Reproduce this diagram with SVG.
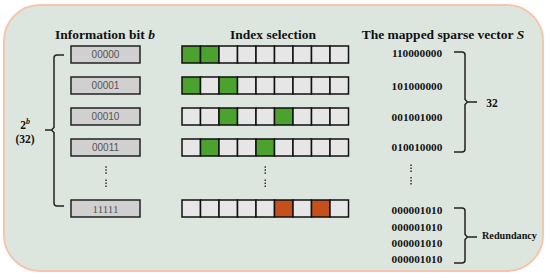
<svg xmlns="http://www.w3.org/2000/svg" width="550" height="278" viewBox="0 0 550 278">
<style>
.title{font-family:"Liberation Serif",serif;font-weight:bold;font-size:13.5px;fill:#111;text-anchor:middle}
.bits{font-family:"Liberation Sans",sans-serif;font-size:10px;fill:#555;text-anchor:middle}
.bits2{font-family:"Liberation Serif",serif;font-size:11px;fill:#555;text-anchor:middle}
.vec{font-family:"Liberation Serif",serif;font-weight:bold;font-size:11.3px;fill:#111;text-anchor:middle}
.lbl{font-family:"Liberation Serif",serif;font-weight:bold;font-size:11.5px;fill:#111;text-anchor:middle}
.red{font-family:"Liberation Serif",serif;font-weight:bold;font-size:10.2px;fill:#111;text-anchor:start}
.box{fill:#d0d0d0;stroke:#222;stroke-width:1.5}
.c{fill:#e6e6e6;stroke:#111;stroke-width:1.5}
.g{fill:#4ca22e;stroke:#111;stroke-width:1.5}
.o{fill:#c5501c;stroke:#111;stroke-width:1.5}
.brace{fill:none;stroke:#222;stroke-width:1.5}
.dot{fill:#333}
</style>
<rect x="4" y="5" width="539" height="266" rx="36" ry="36" fill="#dce6df" stroke="#f5c6ad" stroke-width="2"/>
<text class="title" x="105" y="39">Information bit <tspan font-style="italic">b</tspan></text>
<text class="title" x="273" y="39">Index selection</text>
<text class="title" x="443" y="39">The mapped sparse vector <tspan font-style="italic">S</tspan></text>

<g id="bits">
<g id="b0"><rect class="box" x="71" y="46" width="69" height="17"/><text class="bits" x="105.5" y="58">00000</text></g>
<g id="b1"><rect class="box" x="71" y="77" width="69" height="17"/><text class="bits" x="105.5" y="89">00001</text></g>
<g id="b2"><rect class="box" x="71" y="108" width="69" height="17"/><text class="bits" x="105.5" y="120">00010</text></g>
<g id="b3"><rect class="box" x="71" y="139" width="69" height="17"/><text class="bits" x="105.5" y="151">00011</text></g>
<g id="b4"><rect class="box" x="71" y="200" width="69" height="17"/><text class="bits2" x="105.5" y="212.5">11111</text></g>
</g>

<g id="idx0">
<rect class="g" x="182" y="46" width="18.5" height="17"/><rect class="g" x="200.5" y="46" width="18.5" height="17"/><rect class="c" x="219" y="46" width="18.5" height="17"/><rect class="c" x="237.5" y="46" width="18.5" height="17"/><rect class="c" x="256" y="46" width="18.5" height="17"/><rect class="c" x="274.5" y="46" width="18.5" height="17"/><rect class="c" x="293" y="46" width="18.5" height="17"/><rect class="c" x="311.5" y="46" width="18.5" height="17"/><rect class="c" x="330" y="46" width="18.5" height="17"/>
</g>
<g id="idx1">
<rect class="g" x="182" y="77" width="18.5" height="17"/><rect class="c" x="200.5" y="77" width="18.5" height="17"/><rect class="g" x="219" y="77" width="18.5" height="17"/><rect class="c" x="237.5" y="77" width="18.5" height="17"/><rect class="c" x="256" y="77" width="18.5" height="17"/><rect class="c" x="274.5" y="77" width="18.5" height="17"/><rect class="c" x="293" y="77" width="18.5" height="17"/><rect class="c" x="311.5" y="77" width="18.5" height="17"/><rect class="c" x="330" y="77" width="18.5" height="17"/>
</g>
<g id="idx2">
<rect class="c" x="182" y="108" width="18.5" height="17"/><rect class="c" x="200.5" y="108" width="18.5" height="17"/><rect class="g" x="219" y="108" width="18.5" height="17"/><rect class="c" x="237.5" y="108" width="18.5" height="17"/><rect class="c" x="256" y="108" width="18.5" height="17"/><rect class="g" x="274.5" y="108" width="18.5" height="17"/><rect class="c" x="293" y="108" width="18.5" height="17"/><rect class="c" x="311.5" y="108" width="18.5" height="17"/><rect class="c" x="330" y="108" width="18.5" height="17"/>
</g>
<g id="idx3">
<rect class="c" x="182" y="139" width="18.5" height="17"/><rect class="g" x="200.5" y="139" width="18.5" height="17"/><rect class="c" x="219" y="139" width="18.5" height="17"/><rect class="c" x="237.5" y="139" width="18.5" height="17"/><rect class="g" x="256" y="139" width="18.5" height="17"/><rect class="c" x="274.5" y="139" width="18.5" height="17"/><rect class="c" x="293" y="139" width="18.5" height="17"/><rect class="c" x="311.5" y="139" width="18.5" height="17"/><rect class="c" x="330" y="139" width="18.5" height="17"/>
</g>
<g id="idx4">
<rect class="c" x="182" y="200" width="18.5" height="17"/><rect class="c" x="200.5" y="200" width="18.5" height="17"/><rect class="c" x="219" y="200" width="18.5" height="17"/><rect class="c" x="237.5" y="200" width="18.5" height="17"/><rect class="c" x="256" y="200" width="18.5" height="17"/><rect class="o" x="274.5" y="200" width="18.5" height="17"/><rect class="c" x="293" y="200" width="18.5" height="17"/><rect class="o" x="311.5" y="200" width="18.5" height="17"/><rect class="c" x="330" y="200" width="18.5" height="17"/>
</g>

<g id="vectors">
<text class="vec" x="417" y="57">110000000</text>
<text class="vec" x="417" y="89.5">101000000</text>
<text class="vec" x="417" y="120.5">001001000</text>
<text class="vec" x="417" y="151">010010000</text>
<text class="vec" x="417" y="214">000001010</text>
<text class="vec" x="417" y="230.5">000001010</text>
<text class="vec" x="417" y="246.5">000001010</text>
<text class="vec" x="417" y="262.5">000001010</text>
</g>

<g id="dots">
<rect class="dot" x="105.3" y="166.3" width="1.5" height="1.5"/><rect class="dot" x="105.3" y="169.3" width="1.5" height="1.5"/><rect class="dot" x="105.3" y="172.3" width="1.5" height="1.5"/>
<rect class="dot" x="105.3" y="179.5" width="1.5" height="1.5"/><rect class="dot" x="105.3" y="182.5" width="1.5" height="1.5"/><rect class="dot" x="105.3" y="185.5" width="1.5" height="1.5"/>
<rect class="dot" x="264.5" y="166.3" width="1.5" height="1.5"/><rect class="dot" x="264.5" y="169.3" width="1.5" height="1.5"/><rect class="dot" x="264.5" y="172.3" width="1.5" height="1.5"/>
<rect class="dot" x="264.5" y="179.5" width="1.5" height="1.5"/><rect class="dot" x="264.5" y="182.5" width="1.5" height="1.5"/><rect class="dot" x="264.5" y="185.5" width="1.5" height="1.5"/>
<rect class="dot" x="410.3" y="164.5" width="1.5" height="1.5"/><rect class="dot" x="410.3" y="167.5" width="1.5" height="1.5"/><rect class="dot" x="410.3" y="170.5" width="1.5" height="1.5"/>
<rect class="dot" x="410.3" y="177" width="1.5" height="1.5"/><rect class="dot" x="410.3" y="180" width="1.5" height="1.5"/><rect class="dot" x="410.3" y="183" width="1.5" height="1.5"/>
</g>

<g id="connectors">
<path class="brace" d="M64,55 H57 Q54,55 54,58 V127.5 L51.5,130 H45 M51.5,130 L54,132.5 V203 Q54,206 57,206 H64"/>
<path class="brace" d="M454,52 H462 Q465,52 465,55 V99.5 L467.5,102 H477 M467.5,102 L465,104.5 V149 Q465,152 462,152 H454"/>
<path class="brace" d="M454,208 H462 Q465,208 465,211 V234.5 L467.5,237 H477 M467.5,237 L465,239.5 V260 Q465,263 462,263 H454"/>
</g>

<g id="labels">
<text class="lbl" x="25" y="129">2<tspan font-size="8px" font-style="italic" dy="-5">b</tspan></text>
<text class="lbl" x="25" y="143">(32)</text>
<text class="lbl" x="492" y="107">32</text>
<text class="red" x="482" y="239">Redundancy</text>
</g>
</svg>
